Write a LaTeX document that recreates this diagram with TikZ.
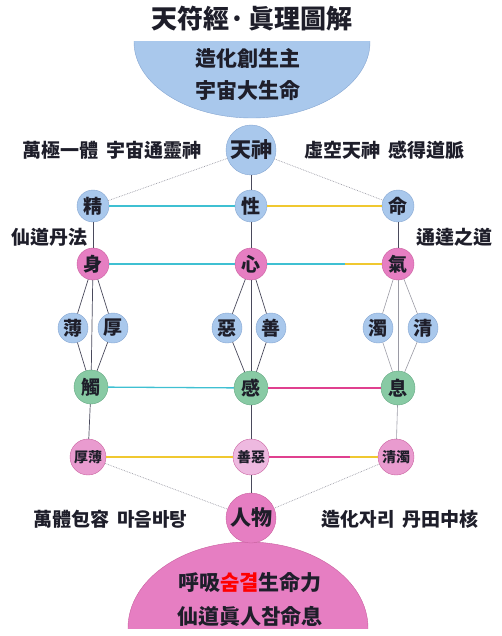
\documentclass[tikz,border=0pt]{standalone}
\usepackage{fontspec}
\newfontfamily\cjk{Noto Sans CJK KR}
\usetikzlibrary{positioning}
\definecolor{skyfill}{HTML}{A9C8EC}
\definecolor{skyedge}{HTML}{86A6D2}
\definecolor{rosefill}{HTML}{E67EC2}
\definecolor{roseedge}{HTML}{C9609F}
\definecolor{leaffill}{HTML}{88CAA4}
\definecolor{leafedge}{HTML}{64A882}
\definecolor{blushfill}{HTML}{E99BCF}
\definecolor{palefill}{HTML}{EEB9E0}
\definecolor{tealline}{HTML}{3FC0D2}
\definecolor{goldline}{HTML}{F0C830}
\definecolor{plumline}{HTML}{E0408F}
\definecolor{inkline}{HTML}{4A4A5C}
\definecolor{greyline}{HTML}{9A9AA4}
\definecolor{textink}{HTML}{1E1E2A}

\begin{document}
\begin{tikzpicture}[x=1pt, y=-1pt, on grid, text=textink,
  sky/.style = {circle, inner sep=0pt, minimum size=32pt, fill=skyfill, draw=skyedge, font=\cjk\bfseries\fontsize{19}{19}\selectfont},
  rose/.style = {sky, fill=rosefill, draw=roseedge},
  leaf/.style = {sky, minimum size=34pt, fill=leaffill, draw=leafedge},
  twin/.style = {sky, minimum size=36pt, fill=blushfill, draw=roseedge, font=\cjk\bfseries\fontsize{14}{14}\selectfont},
  big/.style = {sky, minimum size=50pt, font=\cjk\bfseries\fontsize{21}{21}\selectfont},
  words/.style = {font=\cjk\bfseries\fontsize{19}{19}\selectfont},
  inkway/.style = {draw=inkline, line width=0.7pt},
  greyway/.style = {draw=greyline, line width=0.6pt},
  dotway/.style = {draw=greyline, line width=0.7pt, densely dotted},
  tealway/.style = {draw=tealline, line width=1.3pt},
  goldway/.style = {draw=goldline, line width=1.3pt},
  plumway/.style = {draw=plumline, line width=1.3pt}]
  \useasboundingbox (0,0) rectangle (502,636);

  % top and bottom half bowls
  \begin{scope}
    \clip (128,42) rectangle (378,124);
    \fill[skyfill] (252,42) ellipse [x radius=118pt, y radius=76pt];
    \draw[skyedge] (252,42) ellipse [x radius=118pt, y radius=76pt];
  \end{scope}
  \begin{scope}
    \clip (122,538) rectangle (376,628);
    \fill[rosefill] (248,628) ellipse [x radius=120pt, y radius=86pt];
    \draw[roseedge] (248,628) ellipse [x radius=120pt, y radius=86pt];
  \end{scope}

  \node[font=\cjk\bfseries\fontsize{26}{26}\selectfont] (title) at (252,19) {天符經·\hspace{4pt}眞理圖解};
  \node[font=\cjk\bfseries\fontsize{21}{32}\selectfont, align=center] (zaohua) at (248,75) {造化創生主\\宇宙大生命};
  \node[font=\cjk\bfseries\fontsize{21}{34}\selectfont, align=center] (huxi) at (250,600) {呼吸\textcolor{red}{숨결}生命力\\仙道眞人참命息};

  \node[big] (tianshen) at (251,150) {天神};
  \node[sky, below=56pt of tianshen] (xing) {性};
  \node[sky, left=158pt of xing] (jing) {精};
  \node[sky, right=147pt of xing] (ming) {命};

  \node[rose, below=58pt of xing] (xin) {心};
  \node[rose, below=58pt of jing] (shen) {身};
  \node[rose, below=58pt of ming] (qi) {氣};

  \node[sky, minimum size=30pt, below left=64pt and 20pt of shen] (bo) {薄};
  \node[sky, minimum size=30pt, below right=64pt and 20pt of shen] (hou) {厚};
  \node[sky, minimum size=30pt, below left=64pt and 24pt of xin] (e) {惡};
  \node[sky, minimum size=30pt, below right=64pt and 20pt of xin] (shan) {善};
  \node[sky, minimum size=30pt, below left=64pt and 20pt of qi] (zhuo) {濁};
  \node[sky, minimum size=30pt, below right=64pt and 25pt of qi] (qing) {清};

  \node[leaf, below=124pt of xin] (gan) {感};
  \node[leaf, below=123pt of shen, xshift=-2pt] (chu) {觸};
  \node[leaf, below=124pt of qi] (xi) {息};

  \node[twin, fill=palefill, below=69pt of gan] (shane) {善惡};
  \node[twin, left=163pt of shane] (houbo) {厚薄};
  \node[twin, right=145pt of shane] (qingzhuo) {清濁};
  \node[big, fill=rosefill, draw=roseedge, below=61pt of shane] (renwu) {人物};

  \node[words] (wanji) at (112,150) {萬極一體\hspace{8pt}宇宙通靈神};
  \node[words] (xukong) at (384,150) {虛空天神\hspace{8pt}感得道脈};
  \node[words] (xiandao) at (49,237) {仙道丹法};
  \node[words] (tongda) at (454,237) {通達之道};
  \node[words] (wanti) at (110,519) {萬體包容\hspace{8pt}마음바탕};
  \node[words] (zaohuazi) at (400,519) {造化자리\hspace{8pt}丹田中核};

  \coordinate (qimid) at (345,264);
  \coordinate (zhuomid) at (350,457);

  \draw[dotway] (tianshen) -- (jing);
  \draw[dotway] (tianshen) -- (ming);
  \draw[inkway] (tianshen) -- (xing);
  \draw[tealway] (jing) -- (xing);
  \draw[goldway] (xing) -- (ming);

  \draw[inkway] (jing) -- (shen);
  \draw[inkway] (xing) -- (xin);
  \draw[inkway] (ming) -- (qi);
  \draw[tealway] (shen) -- (xin);
  \draw[tealway] (xin) -- (qimid);
  \draw[goldway] (qimid) -- (qi);

  \draw[inkway] (shen) -- (bo);
  \draw[inkway] (shen) -- (hou);
  \draw[inkway] (shen) -- (chu);
  \draw[inkway] (bo) -- (chu);
  \draw[inkway] (hou) -- (chu);

  \draw[inkway] (xin) -- (e);
  \draw[inkway] (xin) -- (shan);
  \draw[inkway] (xin) -- (gan);
  \draw[inkway] (e) -- (gan);
  \draw[inkway] (shan) -- (gan);

  \draw[greyway] (qi) -- (zhuo);
  \draw[greyway] (qi) -- (qing);
  \draw[greyway] (qi) -- (xi);
  \draw[greyway] (zhuo) -- (xi);
  \draw[greyway] (qing) -- (xi);

  \draw[tealway] (chu) -- (gan);
  \draw[plumway] (gan) -- (xi);

  \draw[inkway] (chu) -- (houbo);
  \draw[inkway] (gan) -- (shane);
  \draw[greyway] (xi) -- (qingzhuo);

  \draw[goldway] (houbo) -- (shane);
  \draw[plumway] (shane) -- (zhuomid);
  \draw[goldway] (zhuomid) -- (qingzhuo);

  \draw[dotway] (houbo) -- (renwu);
  \draw[inkway] (shane) -- (renwu);
  \draw[dotway] (qingzhuo) -- (renwu);
\end{tikzpicture}
\end{document}
